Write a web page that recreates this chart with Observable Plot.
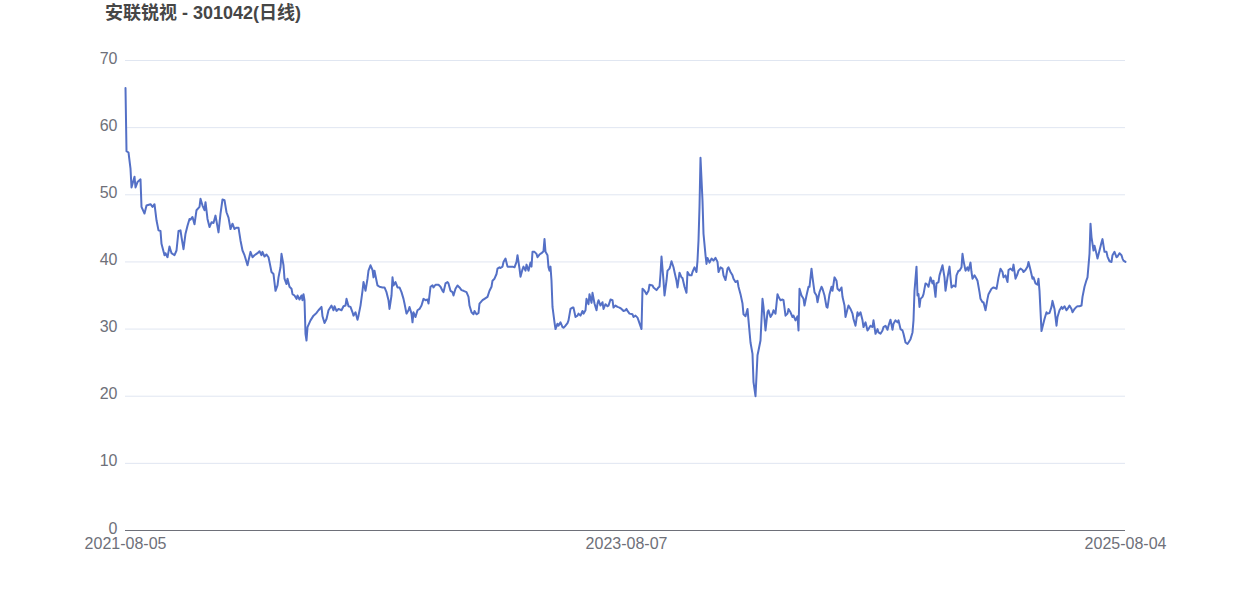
<!DOCTYPE html>
<html>
<head>
<meta charset="utf-8">
<script src="https://cdn.jsdelivr.net/npm/d3@7"></script>
<script src="https://cdn.jsdelivr.net/npm/@observablehq/plot@0.6"></script>
<style>
  html, body { margin: 0; padding: 0; background: #fff; }
  #wrap { width: 1250px; height: 600px; position: relative; }
  #title { height: 30px; box-sizing: border-box; padding-top: 3px; padding-left: 105px;
           font: bold 18px/20px "Liberation Sans", Arial, "Noto Sans CJK SC", sans-serif; color: #464646; }
  svg { display: block; }
</style>
</head>
<body>
<div id="wrap">
  <div id="title"></div>
  <div id="chart"></div>
</div>
<script>
const titleText = "安联锐视 - 301042(日线)";
const yTicks = [0, 10, 20, 30, 40, 50, 60, 70];
const xTickIndex = [0, 501, 1000];
const xTickLabels = ["2021-08-05", "2023-08-07", "2025-08-04"];
// [trading-day index, close]
const series = [
[0,65.9],[1,56.5],[3,56.3],[5,53.9],[6,51.1],[9,52.7],[10,51.1],[12,51.9],[15,52.3],[16,48.2],[19,47.2],[21,48.4],[25,48.6],[27,48.2],[29,48.6],
[31,46.2],[33,44.7],[35,44.6],[36,42.7],[39,41.0],[40,41.3],[42,40.7],[44,42.3],[46,41.3],[49,41.0],[51,41.7],[53,44.6],[55,44.7],[56,43.7],[58,41.9],
[60,44.2],[62,45.4],[64,46.4],[65,46.3],[67,46.7],[69,45.6],[71,47.7],[74,48.2],[75,49.4],[77,48.4],[79,47.7],[80,48.9],[82,46.4],[84,45.2],[86,45.9],
[88,45.8],[90,46.9],[93,44.4],[95,47.2],[97,49.3],[99,49.2],[101,47.4],[103,46.6],[105,44.9],[107,45.7],[109,44.9],[111,45.1],[113,45.1],[115,43.2],[117,41.7],
[119,41.0],[120,40.5],[122,39.5],[123,40.2],[125,41.5],[127,40.7],[129,41.0],[131,41.2],[132,41.3],[134,41.6],[136,41.0],[137,41.5],[139,40.8],[141,41.1],[143,40.7],
[144,40.0],[146,38.5],[148,38.2],[150,35.7],[152,36.5],[153,37.7],[155,39.2],[156,41.2],[158,39.5],[159,37.5],[161,36.7],[162,37.5],[164,36.3],[166,36.0],[167,35.2],
[169,35.0],[171,34.5],[172,35.0],[174,34.4],[176,35.0],[177,34.3],[178,35.2],[179,34.3],[180,29.3],[181,28.3],[182,30.3],[185,31.3],[188,32.0],[191,32.4],[193,32.8],
[196,33.3],[197,31.9],[199,30.9],[201,31.5],[203,32.8],[206,33.5],[208,32.8],[209,33.4],[211,32.7],[213,33.0],[216,32.8],[218,33.4],[220,33.5],[221,34.5],[223,33.4],
[225,33.3],[227,32.5],[228,32.0],[230,32.5],[232,31.4],[233,32.0],[235,33.5],[237,35.7],[238,37.0],[240,35.7],[242,37.5],[243,38.7],[245,39.5],[247,38.8],[248,37.7],
[249,38.7],[251,37.2],[252,36.5],[254,36.3],[257,36.2],[259,36.2],[261,35.5],[263,34.3],[264,33.0],[266,35.0],[267,37.7],[268,36.5],[270,37.0],[272,36.2],[274,36.2],
[276,35.5],[278,34.5],[279,33.8],[281,32.3],[283,32.8],[284,33.3],[286,32.3],[287,31.0],[288,32.5],[290,31.8],[292,32.8],[294,33.0],[296,33.5],[298,34.5],[300,34.3],
[302,34.4],[303,33.8],[305,36.3],[307,36.5],[308,36.2],[310,36.6],[313,36.6],[315,36.3],[317,35.7],[318,35.5],[320,36.8],[322,37.0],[323,36.8],[325,35.7],[327,35.5],
[328,35.0],[330,36.0],[332,36.5],[334,36.2],[336,35.8],[338,35.7],[341,35.5],[343,34.8],[344,33.5],[346,32.5],[348,32.2],[349,32.7],[351,32.2],[353,32.4],[354,33.8],
[357,34.3],[359,34.5],[362,34.8],[364,35.7],[366,36.3],[367,37.2],[369,37.5],[371,38.2],[372,39.0],[374,39.2],[375,39.1],[377,39.3],[378,40.0],[380,40.5],[382,39.3],
[384,39.3],[387,39.3],[389,39.2],[391,40.0],[392,41.0],[394,39.0],[395,37.8],[397,38.9],[398,39.3],[400,38.7],[401,39.6],[403,38.7],[405,39.9],[406,39.3],[407,41.5],
[409,41.5],[411,41.2],[412,40.7],[414,41.1],[416,41.3],[418,41.6],[419,43.4],[420,41.5],[422,41.0],[423,39.2],[424,38.7],[425,39.3],[426,37.2],[427,33.3],[429,31.0],
[430,30.0],[432,30.8],[433,30.5],[435,31.0],[437,30.3],[438,30.2],[440,30.5],[442,30.9],[443,31.3],[445,33.0],[447,33.2],[448,33.2],[450,31.8],[452,32.0],[453,32.3],
[455,32.0],[457,32.7],[458,32.3],[460,32.8],[461,34.5],[463,33.7],[464,35.2],[466,33.9],[467,35.4],[469,33.8],[471,32.8],[472,33.8],[473,34.3],[475,33.5],[477,34.0],
[478,33.0],[480,33.7],[482,33.4],[483,33.5],[485,34.4],[487,34.3],[488,33.2],[490,33.5],[492,33.3],[494,33.2],[496,33.0],[498,32.7],[500,32.8],[501,33.0],[502,32.7],
[504,32.3],[507,32.2],[508,31.8],[510,32.0],[512,31.7],[513,31.3],[516,30.0],[517,36.0],[519,35.7],[521,35.2],[523,35.7],[524,36.6],[527,36.5],[528,36.2],[531,35.8],
[533,36.2],[534,36.3],[535,38.2],[536,40.8],[538,37.2],[539,35.0],[541,37.2],[542,38.7],[544,39.0],[545,39.5],[546,40.1],[548,39.2],[549,38.5],[551,37.2],[552,36.2],
[554,38.4],[556,37.7],[557,37.6],[559,36.3],[561,35.4],[562,38.5],[564,38.0],[566,38.0],[567,38.5],[569,39.2],[571,38.5],[572,40.2],[573,43.2],[574,48.2],[575,55.5],
[577,49.1],[578,44.2],[580,41.0],[581,39.7],[582,40.6],[584,39.9],[586,40.5],[588,40.2],[590,40.6],[592,40.0],[593,38.5],[595,39.2],[597,39.0],[598,38.0],[600,37.3],
[602,39.0],[603,39.2],[605,38.5],[607,38.0],[608,37.5],[610,37.0],[612,37.2],[613,36.3],[615,35.2],[617,33.8],[618,32.2],[620,31.9],[622,33.0],[623,31.3],[625,28.0],
[627,26.3],[628,22.1],[630,20.0],[632,26.1],[633,26.8],[635,28.3],[637,34.5],[638,33.3],[640,29.8],[642,32.5],[643,32.8],[645,31.8],[647,32.3],[648,32.8],[650,32.3],
[652,35.2],[653,34.8],[655,34.3],[657,34.4],[658,34.3],[660,32.0],[662,32.3],[663,33.0],[665,32.5],[667,31.8],[668,32.0],[670,31.3],[672,31.9],[673,29.8],[674,36.0],
[676,35.0],[678,34.5],[679,33.5],[681,35.0],[683,36.3],[684,36.3],[686,39.0],[687,37.7],[689,35.5],[691,35.0],[692,34.0],[694,35.5],[696,36.3],[697,36.0],[699,35.0],
[701,33.3],[702,33.2],[704,35.2],[706,36.3],[707,35.7],[709,37.7],[711,37.2],[712,36.0],[714,35.7],[716,36.2],[717,34.8],[719,33.5],[720,31.8],[722,33.0],[723,33.5],
[725,33.0],[727,32.3],[728,31.5],[730,30.5],[732,32.5],[733,32.0],[735,32.5],[737,31.3],[738,30.3],[740,31.0],[742,29.8],[743,30.0],[745,30.5],[747,30.3],[748,31.3],
[750,29.3],[752,30.0],[753,29.5],[755,29.3],[757,29.8],[758,30.3],[760,30.5],[762,29.9],[763,30.5],[765,31.4],[767,29.9],[768,30.8],[770,31.3],[772,31.0],[773,31.3],
[775,30.0],[777,29.8],[778,29.3],[780,28.0],[782,27.8],[783,28.0],[785,28.5],[787,29.5],[788,31.3],[789,35.7],[791,39.3],[792,35.0],[793,35.2],[794,33.3],[795,34.5],
[797,34.8],[798,35.2],[800,36.8],[802,36.6],[803,36.3],[805,37.7],[807,36.8],[808,37.2],[810,34.8],[811,36.8],[813,37.0],[814,38.0],[816,39.0],[817,39.5],[819,37.7],
[820,35.7],[822,37.7],[824,39.3],[825,37.7],[826,36.2],[828,36.5],[830,36.3],[831,38.0],[833,38.7],[834,38.7],[836,39.2],[837,41.2],[838,40.2],[840,38.7],[842,39.2],
[843,38.7],[845,39.9],[846,38.5],[847,37.5],[849,38.0],[851,37.5],[852,37.2],[854,35.5],[855,34.5],[857,34.0],[858,34.0],[860,32.8],[862,34.5],[863,35.2],[866,36.0],
[868,36.2],[871,36.0],[872,36.8],[873,37.7],[875,39.0],[877,38.5],[878,37.7],[880,38.0],[882,37.0],[883,38.8],[885,39.0],[887,38.7],[888,39.6],[890,37.5],[892,38.2],
[893,38.7],[895,39.0],[897,38.8],[898,38.5],[900,38.8],[902,39.3],[903,40.0],[905,38.8],[907,37.5],[908,37.7],[910,36.8],[912,36.6],[913,37.5],[914,35.7],[916,29.7],
[917,30.3],[919,31.5],[921,32.5],[922,32.3],[924,32.4],[926,33.3],[927,34.2],[929,33.0],[931,30.5],[932,31.8],[934,32.8],[936,33.3],[937,33.0],[939,33.4],[941,32.8],
[942,33.0],[944,33.5],[946,33.0],[947,32.5],[949,33.0],[951,33.3],[952,33.4],[954,33.4],[956,33.5],[957,34.8],[959,36.3],[961,37.3],[962,37.7],[964,41.2],[965,45.7],
[966,43.7],[968,41.7],[969,42.4],[971,41.2],[972,40.5],[974,41.7],[976,42.9],[977,43.4],[979,41.5],[981,41.5],[982,40.8],[984,40.1],[986,40.0],[987,41.0],[989,41.5],
[991,40.7],[992,40.8],[994,41.3],[996,41.0],[997,40.5],[998,40.2],[1000,40.0]
];

document.getElementById("title").textContent = titleText;

const data = series.map(([i, v]) => ({i, v}));

const chart = Plot.plot({
  width: 1250,
  height: 570,
  marginLeft: 125,
  marginRight: 125,
  marginTop: 30,
  marginBottom: 70,
  x: {domain: [0, 1000]},
  y: {domain: [0, 70]},
  style: {
    fontFamily: '"Liberation Sans", Arial, sans-serif',
    fontSize: "16px",
    color: "#6e7079",
    background: "#fff",
    overflow: "visible"
  },
  marks: [
    Plot.gridY(yTicks, {stroke: "#e0e6f1", strokeOpacity: 1}),
    Plot.axisY({ticks: yTicks, tickSize: 0, tickPadding: 8, dy: -2, label: null, fill: "#6e7079"}),
    Plot.ruleY([0], {stroke: "#6e7079", strokeWidth: 1}),
    Plot.axisX({ticks: xTickIndex, tickFormat: (d) => xTickLabels[xTickIndex.indexOf(d)], tickSize: 0, tickPadding: 7, label: null, fill: "#6e7079"}),
    Plot.line(data, {x: "i", y: "v", stroke: "#5470c6", strokeWidth: 2, strokeLinejoin: "round"})
  ]
});
document.getElementById("chart").appendChild(chart);
</script>
</body>
</html>
